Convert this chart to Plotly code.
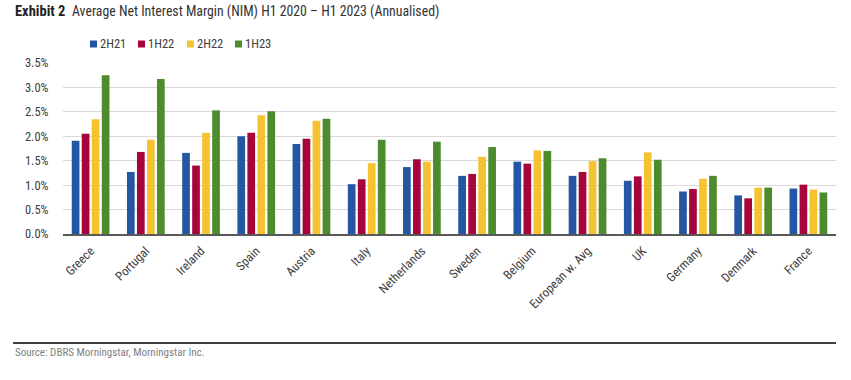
import plotly.graph_objects as go

categories = ["Greece", "Portugal", "Ireland", "Spain", "Austria", "Italy", "Netherlands",
              "Sweden", "Belgium", "European w. Avg", "UK", "Germany", "Denmark", "France"]
s_2H21 = [1.91, 1.27, 1.66, 2.00, 1.84, 1.02, 1.37, 1.19, 1.48, 1.19, 1.09, 0.87, 0.79, 0.93]
s_1H22 = [2.05, 1.68, 1.40, 2.07, 1.95, 1.12, 1.53, 1.23, 1.44, 1.27, 1.18, 0.92, 0.73, 1.01]
s_2H22 = [2.35, 1.93, 2.07, 2.43, 2.32, 1.45, 1.48, 1.58, 1.71, 1.49, 1.67, 1.13, 0.95, 0.91]
s_1H23 = [3.25, 3.17, 2.53, 2.51, 2.36, 1.93, 1.89, 1.78, 1.70, 1.55, 1.52, 1.19, 0.95, 0.85]
series_names = ["2H21", "1H22", "2H22", "1H23"]
series_values = [s_2H21, s_1H22, s_2H22, s_1H23]
colors = ["#2456A4", "#A5053A", "#F5C230", "#4E8A2E"]
y_ticks = [0, 0.5, 1.0, 1.5, 2.0, 2.5, 3.0, 3.5]
y_tick_labels = ["0.0%", "0.5%", "1.0%", "1.5%", "2.0%", "2.5%", "3.0%", "3.5%"]

FONT = "Liberation Sans Narrow, Roboto Condensed, Arial Narrow, Roboto, sans-serif"

fig = go.Figure()
for name, vals, col in zip(series_names, series_values, colors):
    fig.add_trace(go.Bar(x=categories, y=vals, name=name, marker=dict(color=col, line_width=0)))

W, H = 851, 380
L, R, T, B = 63, 15, 63, 146

fig.update_layout(
    width=W, height=H,
    margin=dict(l=L, r=R, t=T, b=B, pad=0, autoexpand=False),
    paper_bgcolor="white", plot_bgcolor="white",
    barmode="group", bargap=0.275, bargroupgap=0.23,
    showlegend=False,
    font=dict(family=FONT, color="#404040", size=12),
)
fig.update_yaxes(range=[0, 3.5], tickvals=y_ticks, ticktext=y_tick_labels,
                 showgrid=True, gridcolor="#D9D9D9", gridwidth=1,
                 zeroline=False, showline=False, automargin=False,
                 ticks="outside", ticklen=11, tickcolor="rgba(0,0,0,0)",
                 tickfont=dict(size=12.5, color="#404040"))
fig.update_xaxes(showline=True, linecolor="#595959", linewidth=1.5, automargin=False,
                 ticks="outside", ticklen=3, tickcolor="rgba(0,0,0,0)",
                 tickangle=-45, tickfont=dict(size=12.5, color="#404040"))

plot_w = W - L - R
plot_h = H - T - B

# Title (bold label + regular text)
fig.add_annotation(xref="paper", yref="paper",
                   x=(13 - L) / plot_w, y=1 + (T - 12) / plot_h,
                   xanchor="left", yanchor="middle", showarrow=False,
                   text="<b>Exhibit 2</b>",
                   font=dict(size=14.5, color="#222222", family=FONT))
fig.add_annotation(xref="paper", yref="paper",
                   x=(70 - L) / plot_w, y=1 + (T - 12) / plot_h,
                   xanchor="left", yanchor="middle", showarrow=False,
                   text="Average Net Interest Margin (NIM) H1 2020 – H1 2023 (Annualised)",
                   font=dict(size=13.8, color="#333333", family=FONT))

# Manual legend
leg_x = [90, 138, 187, 235]
leg_y = 44
for name, col, lx in zip(series_names, colors, leg_x):
    fig.add_shape(type="rect", xref="paper", yref="paper",
                  x0=(lx - L) / plot_w, x1=(lx + 7 - L) / plot_w,
                  y0=1 + (T - leg_y - 3.5) / plot_h, y1=1 + (T - leg_y + 3.5) / plot_h,
                  fillcolor=col, line_width=0)
    fig.add_annotation(xref="paper", yref="paper",
                       x=(lx + 8 - L) / plot_w, y=1 + (T - leg_y) / plot_h,
                       xanchor="left", yanchor="middle", showarrow=False,
                       text=name, font=dict(size=12.5, color="#404040", family=FONT))

# Bottom rule and source
fig.add_shape(type="line", xref="paper", yref="paper",
              x0=(13 - L) / plot_w, x1=(836 - L) / plot_w,
              y0=-(343 - (T + plot_h)) / plot_h, y1=-(343 - (T + plot_h)) / plot_h,
              line=dict(color="#000000", width=1.5))
fig.add_annotation(xref="paper", yref="paper",
                   x=(13 - L) / plot_w, y=-(352 - (T + plot_h)) / plot_h,
                   xanchor="left", yanchor="middle", showarrow=False,
                   text="Source: DBRS Morningstar, Morningstar Inc.",
                   font=dict(size=11, color="#808080", family=FONT))

fig.write_html("out.html", config={"displayModeBar": False},
               post_script="document.body.style.margin='0';document.body.style.overflow='hidden';")
